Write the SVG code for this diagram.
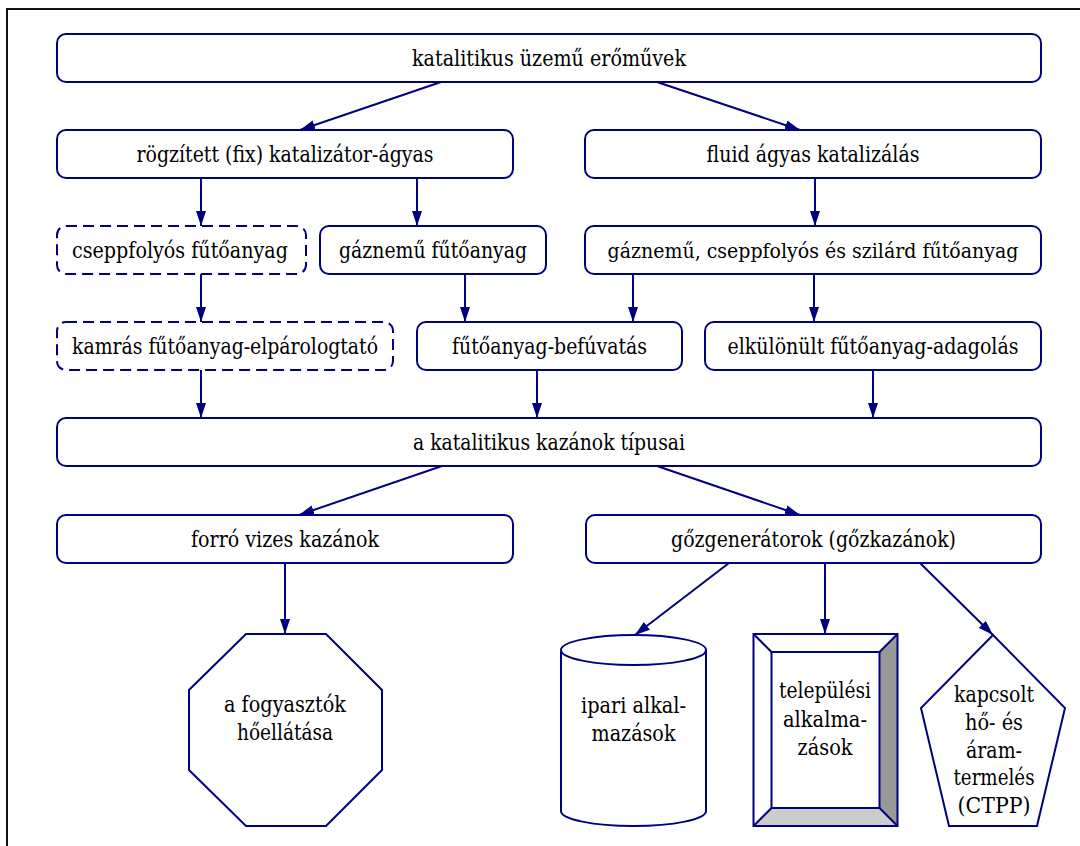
<svg xmlns="http://www.w3.org/2000/svg" width="1080" height="846" viewBox="0 0 1080 846">
<defs>
<marker id="ah" markerWidth="15" markerHeight="10" refX="15" refY="5" orient="auto" markerUnits="userSpaceOnUse"><path d="M0,0 L15,5 L0,10 z" fill="#000080"/></marker>
<style>
.b{fill:#fff;stroke:#000080;stroke-width:2}
.d{fill:#fff;stroke:#000080;stroke-width:2;stroke-dasharray:11,6}
.t{font-family:'DejaVu Serif',serif;font-size:22px;fill:#000;text-anchor:middle}
.c line{stroke:#000080;stroke-width:2;marker-end:url(#ah)}
</style>
</defs>
<rect width="1080" height="846" fill="#fff"/>
<path d="M7,846 V9 H1080" fill="none" stroke="#111" stroke-width="2"/>
<g class="c" id="connectors">
<line x1="441" y1="82" x2="300" y2="130"/>
<line x1="657" y1="82" x2="800" y2="130"/>
<line x1="201" y1="178" x2="201" y2="226"/>
<line x1="417" y1="178" x2="417" y2="226"/>
<line x1="815" y1="178" x2="815" y2="226"/>
<line x1="201" y1="274" x2="201" y2="322"/>
<line x1="465" y1="274" x2="465" y2="322"/>
<line x1="633" y1="274" x2="633" y2="322"/>
<line x1="814" y1="274" x2="814" y2="322"/>
<line x1="201" y1="370" x2="201" y2="418"/>
<line x1="537" y1="370" x2="537" y2="418"/>
<line x1="873" y1="370" x2="873" y2="418"/>
<line x1="442" y1="466" x2="299" y2="515"/>
<line x1="657" y1="466" x2="800" y2="515"/>
<line x1="285" y1="563" x2="285" y2="634"/>
<line x1="729" y1="563" x2="635" y2="635"/>
<line x1="825" y1="563" x2="825" y2="634"/>
<line x1="920" y1="563" x2="993" y2="635"/>
</g>
<g id="n1"><rect class="b" x="57" y="34" width="984" height="48" rx="9"/><text class="t" x="549" y="66" textLength="274" lengthAdjust="spacingAndGlyphs">katalitikus üzemű erőművek</text></g>
<g id="n2"><rect class="b" x="57" y="130" width="456" height="48" rx="9"/><text class="t" x="285" y="162" textLength="297" lengthAdjust="spacingAndGlyphs">rögzített (fix) katalizátor-ágyas</text></g>
<g id="n3"><rect class="b" x="585" y="130" width="456" height="48" rx="9"/><text class="t" x="813" y="162" textLength="213" lengthAdjust="spacingAndGlyphs">fluid ágyas katalizálás</text></g>
<g id="n4"><rect class="d" x="57" y="226" width="249" height="48" rx="9"/><text class="t" x="180" y="258" textLength="216" lengthAdjust="spacingAndGlyphs">cseppfolyós fűtőanyag</text></g>
<g id="n5"><rect class="b" x="320" y="226" width="226" height="48" rx="9"/><text class="t" x="433" y="258" textLength="188" lengthAdjust="spacingAndGlyphs">gáznemű fűtőanyag</text></g>
<g id="n6"><rect class="b" x="585" y="226" width="456" height="48" rx="9"/><text class="t" x="813" y="258" font-size="20" style="font-size:20px" textLength="411" lengthAdjust="spacingAndGlyphs">gáznemű, cseppfolyós és szilárd fűtőanyag</text></g>
<g id="n7"><rect class="d" x="57" y="322" width="336" height="48" rx="9"/><text class="t" x="225" y="354" textLength="306" lengthAdjust="spacingAndGlyphs">kamrás fűtőanyag-elpárologtató</text></g>
<g id="n8"><rect class="b" x="417" y="322" width="265" height="48" rx="9"/><text class="t" x="549.5" y="354" textLength="195" lengthAdjust="spacingAndGlyphs">fűtőanyag-befúvatás</text></g>
<g id="n9"><rect class="b" x="705" y="322" width="336" height="48" rx="9"/><text class="t" x="873" y="354" textLength="291" lengthAdjust="spacingAndGlyphs">elkülönült fűtőanyag-adagolás</text></g>
<g id="n10"><rect class="b" x="57" y="418" width="984" height="48" rx="9"/><text class="t" x="549" y="450" textLength="272" lengthAdjust="spacingAndGlyphs">a katalitikus kazánok típusai</text></g>
<g id="n11"><rect class="b" x="57" y="515" width="456" height="48" rx="9"/><text class="t" x="285" y="547" textLength="188" lengthAdjust="spacingAndGlyphs">forró vizes kazánok</text></g>
<g id="n12"><rect class="b" x="586" y="515" width="455" height="48" rx="9"/><text class="t" x="813.5" y="547" textLength="285" lengthAdjust="spacingAndGlyphs">gőzgenerátorok (gőzkazánok)</text></g>
<g id="n13"><polygon class="b" points="246,634 326,634 382,690 382,770 326,826 246,826 189,770 189,690"/><text class="t" x="285" y="712" textLength="122" lengthAdjust="spacingAndGlyphs">a fogyasztók</text><text class="t" x="285" y="740" textLength="96" lengthAdjust="spacingAndGlyphs">hőellátása</text></g>
<g id="n14"><path class="b" d="M561,650 A72.5,15 0 0 1 706,650 V811 A72.5,15 0 0 1 561,811 Z"/><path d="M561,650 A72.5,15 0 0 0 706,650" fill="none" stroke="#000080" stroke-width="2"/><text class="t" x="633.5" y="713" textLength="105" lengthAdjust="spacingAndGlyphs">ipari alkal-</text><text class="t" x="633.5" y="741" textLength="84" lengthAdjust="spacingAndGlyphs">mazások</text></g>
<g id="n15"><rect x="753.5" y="634" width="144" height="192" fill="#fff"/><polygon points="879.5,652 897.5,634 897.5,826 879.5,808" fill="#999"/><polygon points="771.5,808 879.5,808 897.5,826 753.5,826" fill="#ccc"/><g fill="none" stroke="#000080" stroke-width="2"><rect x="753.5" y="634" width="144" height="192"/><rect x="771.5" y="652" width="108" height="156"/><path d="M753.5,634 L771.5,652 M897.5,634 L879.5,652 M897.5,826 L879.5,808 M753.5,826 L771.5,808"/></g><text class="t" x="825" y="698" textLength="92" lengthAdjust="spacingAndGlyphs">települési</text><text class="t" x="825" y="727" textLength="84" lengthAdjust="spacingAndGlyphs">alkalma-</text><text class="t" x="825" y="755" textLength="55" lengthAdjust="spacingAndGlyphs">zások</text></g>
<g id="n16"><polygon class="b" points="993,635 1065,708 1037,826 949,826 921,708"/><text class="t" x="994" y="702" textLength="80" lengthAdjust="spacingAndGlyphs">kapcsolt</text><text class="t" x="994" y="730" textLength="58" lengthAdjust="spacingAndGlyphs">hő- és</text><text class="t" x="994" y="758" textLength="56" lengthAdjust="spacingAndGlyphs">áram-</text><text class="t" x="994" y="785" textLength="81" lengthAdjust="spacingAndGlyphs">termelés</text><text class="t" x="994" y="813" textLength="73" lengthAdjust="spacingAndGlyphs">(CTPP)</text></g>
</svg>
